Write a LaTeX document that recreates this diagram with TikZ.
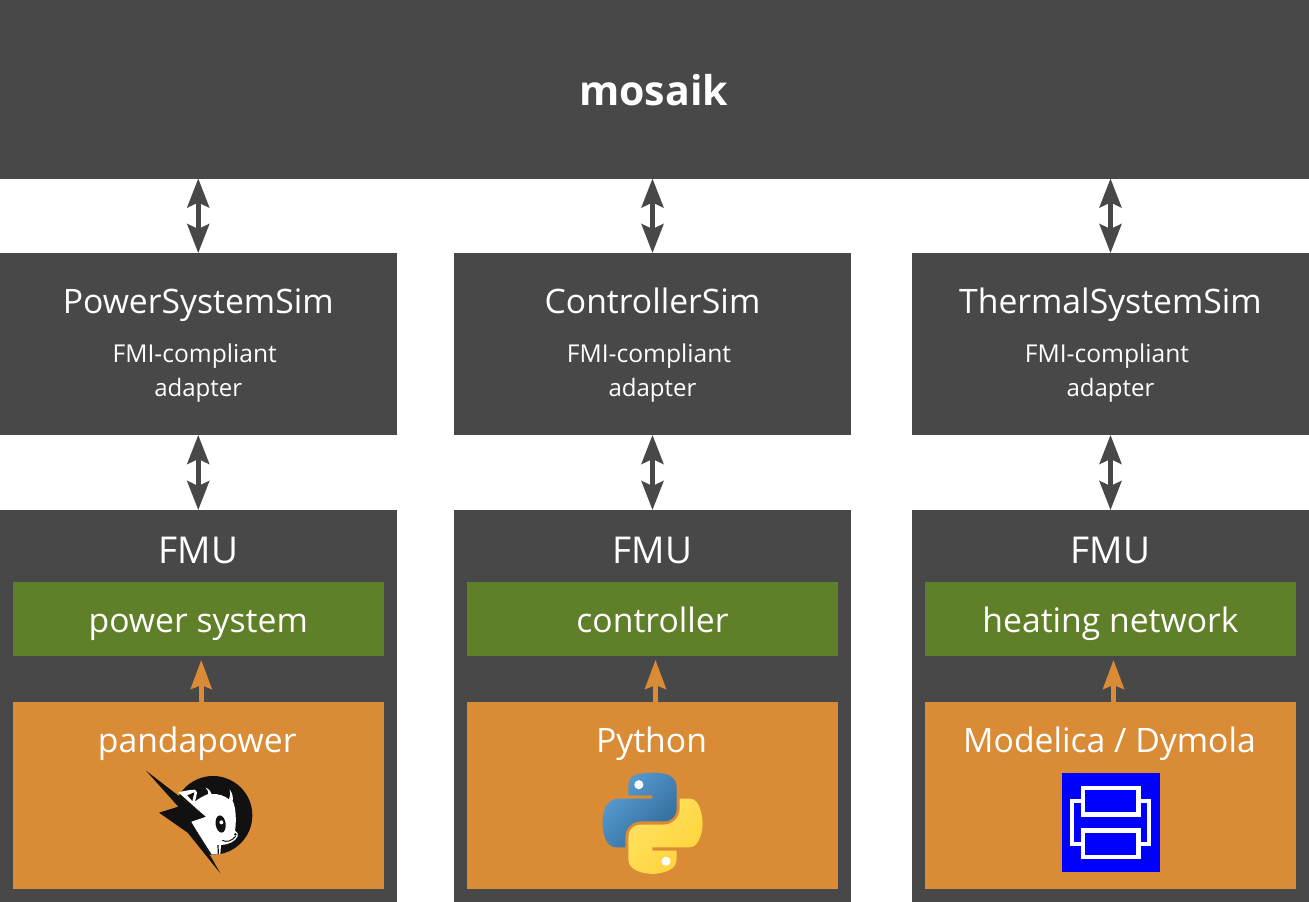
\documentclass[tikz,border=0pt]{standalone}
\usepackage{fontspec}
\setmainfont{Open Sans}
\usetikzlibrary{arrows.meta,svg.path}
\definecolor{darkbox}{HTML}{484848}
\definecolor{greenbox}{HTML}{5F8028}
\definecolor{orangebox}{HTML}{DA8B36}
\definecolor{logoink}{HTML}{111111}
\definecolor{pyblueA}{HTML}{5A9FD4}
\definecolor{pyblueB}{HTML}{306998}
\definecolor{pyyelA}{HTML}{FFE873}
\definecolor{pyyelB}{HTML}{FFD43B}
\definecolor{dymblue}{HTML}{0000FF}
\tikzset{
  box/.style={inner sep=0pt,outer sep=0pt,minimum width=#1,anchor=center},
  darkrect/.style={box=397pt,fill=darkbox},
  greenrect/.style={box=371.5pt,minimum height=74pt,fill=greenbox},
  orangerect/.style={box=371.5pt,minimum height=187pt,fill=orangebox},
  bigtxt/.style={text=white,inner sep=0pt,anchor=base,font=\fontsize{33.7}{36}\selectfont},
  fmutxt/.style={text=white,inner sep=0pt,anchor=base,font=\fontsize{37}{40}\selectfont},
  smalltxt/.style={text=white,inner sep=0pt,anchor=base,font=\fontsize{24}{28}\selectfont},
  fmitxt/.style={text=white,inner sep=0pt,anchor=base,font=\fontsize{24.6}{28}\selectfont},
  dblarrow/.style={draw=darkbox,line width=4.5pt,{Stealth[length=29pt,width=22pt,inset=5pt]}-{Stealth[length=29pt,width=22pt,inset=5pt]}},
  uparrow/.style={draw=orangebox,line width=4.5pt,-{Stealth[length=29pt,width=21pt,inset=4pt]},shorten >=4pt}
}
\begin{document}
\begin{tikzpicture}[x=1pt,y=-1pt]
\useasboundingbox (0,0) rectangle (1309,902);
\fill[white] (0,0) rectangle (1309,902);
\node[box=1309pt,minimum height=178.5pt,fill=darkbox] (mosaik) at (654.5,89.25) {};
\node[text=white,inner sep=0pt,anchor=base,font=\fontsize{41}{44}\selectfont\bfseries] (mosaiktxt) at (653.7,105) {mosaik};
% columns
\foreach \n/\cx/\nameA/\nameG/\nameO in {
  1/198.25/PowerSystemSim/power system/pandapower,
  2/652.5/ControllerSim/controller/Python,
  3/1110.5/ThermalSystemSim/heating network/{Modelica / Dymola}}{
  \node[darkrect,minimum height=182pt] (a\n) at (\cx,344) {};
  \node[darkrect,minimum height=392pt] (f\n) at (\cx,706) {};
  \node[greenrect] (g\n) at (\cx,619) {};
  \node[orangerect] (o\n) at (\cx,795.5) {};
  \node[bigtxt] (at\n) at (\cx,313.5) {\nameA};
  \node[fmitxt,xshift=-3.5pt] (as\n) at (\cx,362) {FMI-compliant};
  \node[smalltxt] (ad\n) at (\cx,396) {adapter};
  \node[fmutxt] (ft\n) at (\cx,563.5) {FMU};
  \node[bigtxt] (gt\n) at (\cx,632.5) {\nameG};
  \node[bigtxt,xshift=-1pt] (ot\n) at (\cx,752) {\nameO};
  \draw[dblarrow] (mosaik.south -| a\n.north) -- (a\n.north);
  \draw[dblarrow] (a\n.south) -- (f\n.north);
  \draw[uparrow] ([xshift=3pt]o\n.north) -- ([xshift=3pt]g\n.south);
}
% pandapower logo
\begin{scope}[shift={(145,765)},scale=1/3]
  \begin{scope}
    \clip (3,17) -- (182,155) -- (138,170) -- (226,325) -- (400,325) -- (400,0) -- (3,0) -- cycle;
    \fill[logoink] (204,151) circle (118);
  \end{scope}
  \fill[white] (100,82) .. controls (118,78) and (135,74) .. (150,74) -- (156,82) .. controls (155,92) and (152,102) .. (150,110)
     .. controls (162,100) and (176,92) .. (190,87) .. controls (191,80) and (187,74) .. (182,68)
     .. controls (192,72) and (198,80) .. (200,87) .. controls (220,86) and (238,92) .. (252,103) .. controls (256,94) and (257,84) .. (254,74)
     .. controls (262,84) and (265,96) .. (263,108) .. controls (274,128) and (274,175) .. (270,197) .. controls (278,202) and (281,208) .. (278,214)
     .. controls (272,228) and (250,240) .. (228,240) -- (226,268) -- (200,268) -- (138,170) -- (182,155) -- cycle;
  \fill[logoink] (127,91) -- (148,82) -- (142,108) .. controls (137,102) and (132,96) .. (127,91) -- cycle;
  \fill[logoink,rotate around={8:(227,177)}] (227,177) ellipse (15 and 26);
  \fill[white] (229,172) circle (6);
  \fill[logoink] (271,208) circle (4);
  \draw[logoink,line width=1pt] (232,226) .. controls (245,233) and (260,228) .. (272,214);
  \draw[logoink,line width=1.2pt] (219,240) -- (220,268);
  \fill[logoink] (3,17) -- (182,155) -- (138,170) -- (226,325) -- (128,203) -- (42,143) -- (100,125) -- cycle;
\end{scope}
% python logo
\begin{scope}[shift={(602.5,772.7)},xscale=0.9,yscale=-0.9]
  \shade[shading=axis,left color=pyblueA,right color=pyblueB,shading angle=45] (0,0) svg {M 54.918785,0.0009 C 50.335132,0.02221727 45.957846,0.41313697 42.106285,1.0946693 30.760069,3.0991731 28.700036,7.2947714 28.700035,15.032169 v 10.21875 h 26.8125 v 3.40625 h -36.875 c -7.792459,0 -14.6157588,4.683717 -16.7499998,13.59375 -2.46181998,10.212966 -2.57101508,16.586023 0,27.25 1.9059283,7.937852 6.4575432,13.593748 14.2499998,13.59375 h 9.21875 v -12.25 c 0,-8.849902 7.657144,-16.656248 16.75,-16.65625 h 26.78125 c 7.454951,0 13.406253,-6.138164 13.40625,-13.625 v -25.53125 c 0,-7.2663386 -6.12998,-12.7247771 -13.40625,-13.9374997 C 64.281548,0.32794397 59.502438,-0.02037903 54.918785,0.0009 Z};
  \shade[shading=axis,left color=pyyelA,right color=pyyelB,shading angle=45] (0,0) svg {M 85.637535,28.657169 v 11.90625 c 0,9.230755 -7.825895,16.999999 -16.75,17 h -26.78125 c -7.335833,0 -13.406249,6.278483 -13.40625,13.625 v 25.531247 c 0,7.266344 6.318588,11.540324 13.40625,13.625004 8.487331,2.49561 16.626237,2.94663 26.78125,0 6.750155,-1.95439 13.406253,-5.88761 13.40625,-13.625004 V 86.500919 h -26.78125 v -3.40625 h 40.187504 c 7.792461,0 10.696251,-5.435408 13.406241,-13.59375 2.79933,-8.398886 2.74022,-16.475776 0,-27.25 -1.92578,-7.757441 -5.60387,-13.59375 -13.406241,-13.59375 Z};
  \fill[white] (40.42,-13.34) circle (5.06);
  \fill[white] (70.57,-98.41) circle (5.06);
\end{scope}
% Dymola logo
\fill[dymblue] (1061.7,773.3) rectangle (1160,871.7);
\draw[white,line width=4.3pt] (1083.2,788) rectangle (1138.5,814.5);
\draw[white,line width=4.3pt] (1083.2,830.5) rectangle (1138.5,856.7);
\draw[white,line width=4.3pt] (1083.2,801) -- (1071.7,801) -- (1071.7,843.7) -- (1083.2,843.7);
\draw[white,line width=4.3pt] (1138.5,801) -- (1149.3,801) -- (1149.3,843.7) -- (1138.5,843.7);
\end{tikzpicture}
\end{document}
